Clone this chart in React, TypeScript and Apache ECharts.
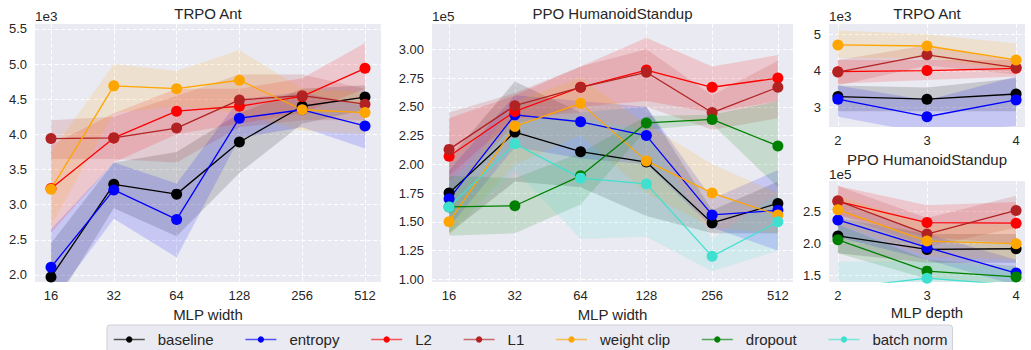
import React, { useEffect, useRef } from 'react';
import * as echarts from 'echarts';

const FONT = '"Liberation Sans", Arial, Helvetica, sans-serif';
const TEXT = '#262626';

const widthTicks = ['16', '32', '64', '128', '256', '512'];
const depthTicks = ['2', '3', '4'];
const methods = ['baseline', 'entropy', 'L2', 'L1', 'weight clip', 'dropout', 'batch norm'];
const methodColors = ['#000000', '#0000ff', '#ff0000', '#b22222', '#ffa500', '#008000', '#40e0d0'];

// Panel 1: TRPO Ant vs MLP width (x1e3)
const trpoWidthMean: Record<string, number[]> = {
  baseline: [1.97, 3.29, 3.15, 3.89, 4.40, 4.53],
  entropy: [2.11, 3.21, 2.79, 4.23, 4.35, 4.12],
  L2: [3.23, 3.95, 4.33, 4.40, 4.54, 4.94],
  L1: [3.94, 3.95, 4.09, 4.49, 4.55, 4.43],
  'weight clip': [3.22, 4.69, 4.65, 4.77, 4.35, 4.31],
};
const trpoWidthLow: Record<string, number[]> = {
  baseline: [1.5, 2.95, 2.55, 3.45, 4.15, 4.35],
  entropy: [1.6, 2.8, 2.25, 3.95, 4.1, 3.8],
  L2: [2.6, 3.6, 4.0, 4.15, 4.3, 4.65],
  L1: [3.65, 3.65, 3.6, 4.1, 4.2, 4.2],
  'weight clip': [2.7, 4.3, 4.4, 4.3, 4.05, 4.0],
};
const trpoWidthHigh: Record<string, number[]> = {
  baseline: [2.45, 3.6, 3.75, 4.3, 4.65, 4.7],
  entropy: [2.65, 3.6, 3.3, 4.5, 4.6, 4.4],
  L2: [3.85, 4.3, 4.65, 4.65, 4.8, 5.3],
  L1: [4.2, 4.25, 4.55, 4.85, 4.85, 4.65],
  'weight clip': [3.75, 5.0, 4.9, 5.2, 4.65, 4.6],
};

// Panel 2: PPO HumanoidStandup vs MLP width (x1e5)
const ppoWidthMean: Record<string, number[]> = {
  baseline: [1.75, 2.28, 2.11, 2.02, 1.49, 1.66],
  entropy: [1.70, 2.43, 2.37, 2.25, 1.56, 1.60],
  L2: [2.07, 2.46, 2.67, 2.82, 2.67, 2.75],
  L1: [2.13, 2.51, 2.67, 2.80, 2.45, 2.67],
  'weight clip': [1.50, 2.33, 2.53, 2.03, 1.75, 1.56],
  dropout: [1.63, 1.64, 1.90, 2.36, 2.39, 2.16],
  'batch norm': [1.63, 2.18, 1.88, 1.83, 1.20, 1.50],
};
const ppoWidthLow: Record<string, number[]> = {
  baseline: [1.40, 1.85, 1.80, 1.55, 1.40, 1.40],
  entropy: [1.45, 2.15, 2.05, 2.00, 1.45, 1.25],
  L2: [1.75, 2.35, 2.50, 2.55, 2.45, 2.55],
  L1: [1.90, 2.40, 2.45, 2.50, 2.30, 2.40],
  'weight clip': [1.38, 2.00, 2.25, 1.75, 1.45, 1.40],
  dropout: [1.38, 1.40, 1.65, 2.30, 2.35, 1.80],
  'batch norm': [1.40, 1.95, 1.35, 1.37, 1.07, 1.25],
};
const ppoWidthHigh: Record<string, number[]> = {
  baseline: [2.05, 2.72, 2.45, 2.50, 1.60, 1.85],
  entropy: [1.95, 2.60, 2.55, 2.50, 1.70, 1.95],
  L2: [2.40, 2.60, 2.85, 3.10, 2.85, 2.95],
  L1: [2.45, 2.62, 2.85, 3.00, 2.60, 2.90],
  'weight clip': [1.70, 2.55, 2.75, 2.35, 2.00, 1.75],
  dropout: [1.90, 1.88, 2.10, 2.42, 2.43, 2.55],
  'batch norm': [1.85, 2.40, 2.40, 2.30, 1.35, 1.75],
};

// Panel 3: TRPO Ant vs MLP depth (x1e3)
const trpoDepthMean: Record<string, number[]> = {
  baseline: [3.30, 3.23, 3.37],
  entropy: [3.23, 2.75, 3.21],
  L2: [3.98, 4.01, 4.07],
  L1: [3.97, 4.44, 4.09],
  'weight clip': [4.71, 4.68, 4.30],
};
const trpoDepthLow: Record<string, number[]> = {
  baseline: [2.9, 2.9, 2.9],
  entropy: [2.75, 2.3, 2.5],
  L2: [3.65, 3.75, 3.85],
  L1: [3.6, 4.15, 3.9],
  'weight clip': [4.35, 4.35, 4.0],
};
const trpoDepthHigh: Record<string, number[]> = {
  baseline: [3.6, 3.55, 3.8],
  entropy: [3.6, 3.2, 3.85],
  L2: [4.3, 4.3, 4.3],
  L1: [4.3, 4.7, 4.3],
  'weight clip': [5.1, 5.0, 4.75],
};

// Panel 4: PPO HumanoidStandup vs MLP depth (x1e5)
const ppoDepthMean: Record<string, number[]> = {
  baseline: [2.12, 1.91, 1.92],
  entropy: [2.37, 1.94, 1.54],
  L2: [2.66, 2.33, 2.32],
  L1: [2.67, 2.15, 2.52],
  'weight clip': [2.53, 2.04, 2.00],
  dropout: [2.06, 1.57, 1.48],
  'batch norm': [1.30, 1.46, 1.35],
};
const ppoDepthLow: Record<string, number[]> = {
  baseline: [1.85, 1.7, 1.7],
  entropy: [2.1, 1.75, 1.35],
  L2: [2.45, 2.1, 2.0],
  L1: [2.45, 1.95, 2.25],
  'weight clip': [2.3, 1.8, 1.75],
  dropout: [1.85, 1.45, 1.35],
  'batch norm': [0.9, 1.2, 1.1],
};
const ppoDepthHigh: Record<string, number[]> = {
  baseline: [2.4, 2.15, 2.15],
  entropy: [2.65, 2.15, 1.75],
  L2: [2.9, 2.6, 2.65],
  L1: [2.9, 2.4, 2.75],
  'weight clip': [2.75, 2.3, 2.3],
  dropout: [2.3, 1.75, 1.65],
  'batch norm': [1.72, 1.72, 1.6],
};

const trpoWidthYTicks = [2.0, 2.5, 3.0, 3.5, 4.0, 4.5, 5.0, 5.5];
const ppoWidthYTicks = [1.0, 1.25, 1.5, 1.75, 2.0, 2.25, 2.5, 2.75, 3.0];
const trpoDepthYTicks = [3, 4, 5];
const ppoDepthYTicks = [1.5, 2.0, 2.5];

type Panel = {
  title: string;
  exp: string;
  xName: string;
  grid: { left: number; top: number; width: number; height: number };
  xs: number[];
  xLabels: string[];
  xMin: number;
  xMax: number;
  yMin: number;
  yMax: number;
  yTicks: number[];
  yDigits: number;
  mean: Record<string, number[]>;
  low: Record<string, number[]>;
  high: Record<string, number[]>;
  titleY: number;
  expY: number;
};

const panels: Panel[] = [
  {
    title: 'TRPO Ant', exp: '1e3', xName: 'MLP width',
    grid: { left: 35, top: 24, width: 346, height: 258 },
    xs: widthTicks.map((_, i) => i), xLabels: widthTicks, xMin: -0.255, xMax: 5.255,
    yMin: 1.9, yMax: 5.57, yTicks: trpoWidthYTicks, yDigits: 1,
    mean: trpoWidthMean, low: trpoWidthLow, high: trpoWidthHigh, titleY: 13, expY: 16,
  },
  {
    title: 'PPO HumanoidStandup', exp: '1e5', xName: 'MLP width',
    grid: { left: 432, top: 24, width: 361, height: 258 },
    xs: widthTicks.map((_, i) => i), xLabels: widthTicks, xMin: -0.26, xMax: 5.23,
    yMin: 0.977, yMax: 3.22, yTicks: ppoWidthYTicks, yDigits: 2,
    mean: ppoWidthMean, low: ppoWidthLow, high: ppoWidthHigh, titleY: 13, expY: 16,
  },
  {
    title: 'TRPO Ant', exp: '1e3', xName: '',
    grid: { left: 829, top: 24, width: 196, height: 103 },
    xs: depthTicks.map(Number), xLabels: depthTicks, xMin: 1.9, xMax: 4.1,
    yMin: 2.47, yMax: 5.28, yTicks: trpoDepthYTicks, yDigits: 0,
    mean: trpoDepthMean, low: trpoDepthLow, high: trpoDepthHigh, titleY: 13, expY: 16,
  },
  {
    title: 'PPO HumanoidStandup', exp: '1e5', xName: 'MLP depth',
    grid: { left: 829, top: 181, width: 196, height: 101 },
    xs: depthTicks.map(Number), xLabels: depthTicks, xMin: 1.9, xMax: 4.1,
    yMin: 1.40, yMax: 2.98, yTicks: ppoDepthYTicks, yDigits: 1,
    mean: ppoDepthMean, low: ppoDepthLow, high: ppoDepthHigh, titleY: 159, expY: 174,
  },
];

function buildOption() {
  const grids: any[] = [];
  const xAxes: any[] = [];
  const yAxes: any[] = [];
  const series: any[] = [];
  const graphics: any[] = [];

  panels.forEach((p, gi) => {
    grids.push({
      ...p.grid,
      show: true,
      backgroundColor: '#eaeaf2',
      borderWidth: 0,
      containLabel: false,
    });
    const splitLine = { show: true, lineStyle: { color: '#ffffff', width: 1, type: [4, 2.5] } };
    xAxes.push({
      type: 'value',
      gridIndex: gi,
      min: p.xMin,
      max: p.xMax,
      name: p.xName,
      nameLocation: 'middle',
      nameGap: 23,
      nameTextStyle: { fontFamily: FONT, fontSize: 15, color: TEXT },
      axisLine: { show: false },
      axisTick: { show: false, customValues: p.xs },
      axisLabel: {
        customValues: p.xs,
        margin: 7,
        fontFamily: FONT,
        fontSize: 13,
        color: TEXT,
        formatter: (v: number) => {
          const idx = p.xs.findIndex((x) => Math.abs(x - v) < 1e-6);
          return idx >= 0 ? p.xLabels[idx] : '';
        },
      },
      splitLine,
    });
    yAxes.push({
      type: 'value',
      gridIndex: gi,
      min: p.yMin,
      max: p.yMax,
      axisLine: { show: false },
      axisTick: { show: false, customValues: p.yTicks },
      axisLabel: {
        customValues: p.yTicks,
        margin: 8,
        fontFamily: FONT,
        fontSize: 13,
        color: TEXT,
        formatter: (v: number) => v.toFixed(p.yDigits),
      },
      splitLine,
    });

    const cx = p.grid.left + p.grid.width / 2;
    graphics.push({
      type: 'text',
      x: cx,
      y: p.titleY,
      z: 10,
      style: { text: p.title, fontFamily: FONT, fontSize: 15, fill: TEXT, textAlign: 'center', textVerticalAlign: 'middle' },
    });
    graphics.push({
      type: 'text',
      x: p.grid.left,
      y: p.expY,
      z: 10,
      style: { text: p.exp, fontFamily: FONT, fontSize: 13.5, fill: TEXT, textAlign: 'left', textVerticalAlign: 'middle' },
    });

    methods.forEach((m, mi) => {
      const mean = p.mean[m];
      if (!mean) return;
      const lo = p.low[m];
      const hi = p.high[m];
      const color = methodColors[mi];
      series.push({
        type: 'custom',
        name: `_band_${gi}_${mi}`,
        xAxisIndex: gi,
        yAxisIndex: gi,
        clip: true,
        silent: true,
        z: 1,
        data: [[p.xs[0], mean[0]]],
        renderItem: (_params: any, api: any) => {
          const pts: number[][] = [];
          p.xs.forEach((x, i) => pts.push(api.coord([x, hi[i]])));
          for (let i = p.xs.length - 1; i >= 0; i--) pts.push(api.coord([p.xs[i], lo[i]]));
          return {
            type: 'polygon',
            shape: { points: pts },
            style: { fill: color, opacity: 0.15 },
          };
        },
      });
    });
  });

  panels.forEach((p, gi) => {
    methods.forEach((m, mi) => {
      const mean = p.mean[m];
      if (!mean) return;
      const color = methodColors[mi];
      series.push({
        type: 'line',
        name: m,
        xAxisIndex: gi,
        yAxisIndex: gi,
        data: p.xs.map((x, i) => [x, mean[i]]),
        symbol: 'circle',
        symbolSize: 11,
        itemStyle: { color },
        lineStyle: { color, width: 1.3 },
        z: 3,
      });
    });
  });

  return {
    animation: false,
    textStyle: { fontFamily: FONT },
    grid: grids,
    xAxis: xAxes,
    yAxis: yAxes,
    series,
    graphic: graphics,
    legend: {
      data: methods,
      left: 107,
      top: 325,
      orient: 'horizontal',
      backgroundColor: '#eaeaf2',
      borderColor: '#cfcfd6',
      borderWidth: 1,
      borderRadius: 3,
      padding: [7, 5, 7, 6],
      itemWidth: 31,
      itemHeight: 8,
      itemGap: 31,
      selectedMode: false,
      lineStyle: { opacity: 0.65, width: 1.5 },
      textStyle: { fontFamily: FONT, fontSize: 15, color: TEXT, padding: [0, 0, 0, 8] },
    },
  };
}

export default function App() {
  const ref = useRef<HTMLDivElement>(null);
  useEffect(() => {
    if (!ref.current) return;
    const chart = echarts.init(ref.current, undefined, { renderer: 'svg' });
    chart.setOption(buildOption() as any);
    return () => chart.dispose();
  }, []);
  return (
    <div
      ref={ref}
      style={{ position: 'fixed', left: 0, top: 0, width: 1031, height: 350, background: '#ffffff' }}
    />
  );
}
